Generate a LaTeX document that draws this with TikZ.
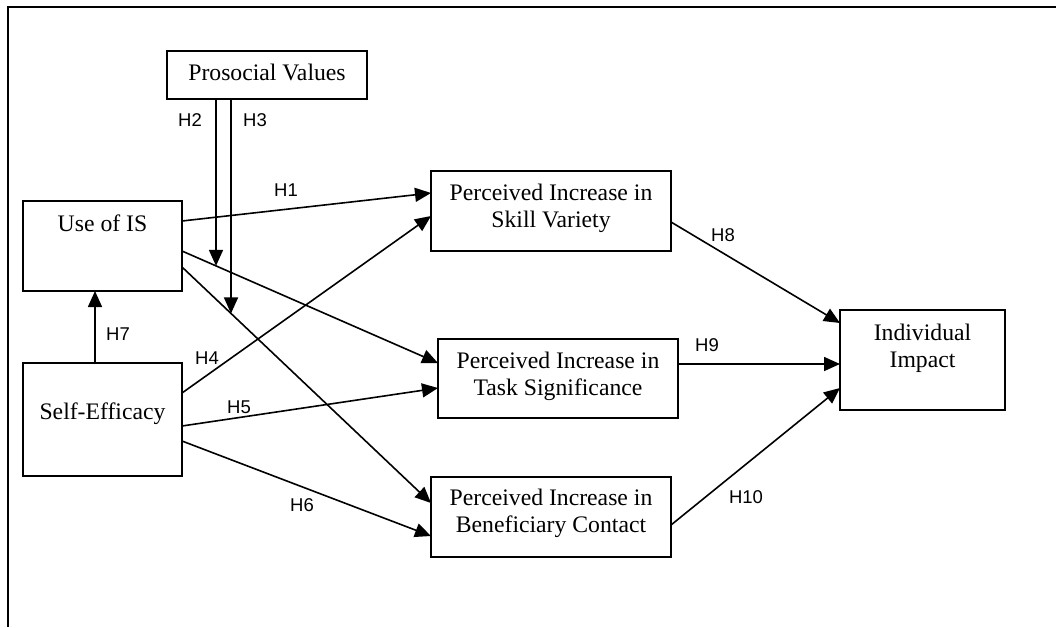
\documentclass[tikz,border=0pt]{standalone}
\usepackage{fontspec}
\setmainfont{Liberation Serif}
\newfontfamily\labfont{Liberation Sans}
\usetikzlibrary{arrows.meta,calc}
\begin{document}
\begin{tikzpicture}[x=1pt,y=-1pt,
  box/.style={draw, line width=1.8pt, inner sep=0pt, outer sep=0pt},
  boxtext/.style={font=\fontsize{23.7}{27}\selectfont, align=center, inner sep=0pt},
  hlab/.style={font=\labfont\fontsize{18.5}{20}\selectfont, inner sep=0pt},
  arr/.style={line width=1.6pt, -{Triangle[length=16pt,width=14pt]}},
]
\useasboundingbox (0,0) rectangle (1056,627);
\draw[line width=2.6pt] (1056,7) -- (8,7) -- (8,627);

% boxes
\node[box, minimum width=200pt, minimum height=48pt] (pro) at (267,75) {};
\node[box, minimum width=159pt, minimum height=90pt] (use) at (102.5,246) {};
\node[box, minimum width=159pt, minimum height=113pt] (self) at (102.5,419.5) {};
\node[box, minimum width=240pt, minimum height=80pt] (skill) at (551,211) {};
\node[box, minimum width=240pt, minimum height=79pt] (task) at (558,378.5) {};
\node[box, minimum width=240pt, minimum height=80pt] (ben) at (551,517) {};
\node[box, minimum width=165pt, minimum height=100pt] (imp) at (922.5,360) {};

% texts
\node[boxtext] (protxt) at (267,72) {Prosocial Values};
\node[boxtext] (usetxt) at (102.5,223) {Use of IS};
\node[boxtext] (selftxt) at (102.5,414) {Self-Efficacy};
\node[boxtext] (skilltxt) at (551,208) {Perceived Increase in\\Skill Variety};
\node[boxtext] (tasktxt) at (558,376) {Perceived Increase in\\Task Significance};
\node[boxtext] (bentxt) at (551,513) {Perceived Increase in\\Beneficiary Contact};
\node[boxtext] (imptxt) at (922.5,348) {Individual\\Impact};

% connector end points
\coordinate (h1s) at ($(use.north east)+(0,20)$);
\coordinate (h1e) at ($(skill.north west)+(0,22)$);
\coordinate (h4s) at ($(self.north east)+(0,30)$);
\coordinate (h4e) at ($(skill.north west)+(0,45)$);
\coordinate (uts) at ($(use.north east)+(0,50)$);
\coordinate (ute) at ($(task.north west)+(0,24)$);
\coordinate (ubs) at ($(use.north east)+(0,66)$);
\coordinate (ube) at ($(ben.north west)+(0,26)$);
\coordinate (h5s) at ($(self.north east)+(0,63)$);
\coordinate (h5e) at ($(task.north west)+(0,49)$);
\coordinate (h6s) at ($(self.north east)+(0,78)$);
\coordinate (h6e) at ($(ben.north west)+(0,59)$);
\coordinate (h8s) at ($(skill.north east)+(0,51)$);
\coordinate (h8e) at ($(imp.north west)+(0,13)$);
\coordinate (h9s) at ($(task.north east)+(0,25)$);
\coordinate (h9e) at (h9s -| imp.west);
\coordinate (h10s) at ($(ben.north east)+(0,48)$);
\coordinate (h10e) at ($(imp.north west)+(0,78)$);
\coordinate (h2s) at ($(pro.south west)+(49,0)$);
\coordinate (h2x) at ($(h2s)+(0,400)$);
\coordinate (h3s) at ($(pro.south west)+(64,0)$);
\coordinate (h3x) at ($(h3s)+(0,400)$);
\coordinate (h2e) at (intersection of h2s--h2x and uts--ute);
\coordinate (h3e) at (intersection of h3s--h3x and ubs--ube);
\coordinate (h7s) at ($(self.north west)+(72,0)$);
\coordinate (h7e) at (h7s |- use.south);

% connectors
\draw[arr] (h1s) -- (h1e);
\draw[arr] (h4s) -- (h4e);
\draw[arr] (uts) -- (ute);
\draw[arr] (ubs) -- (ube);
\draw[arr] (h5s) -- (h5e);
\draw[arr] (h6s) -- (h6e);
\draw[arr] (h8s) -- (h8e);
\draw[arr] (h9s) -- (h9e);
\draw[arr] (h10s) -- (h10e);
\draw[arr] (h2s) -- (h2e);
\draw[arr] (h3s) -- (h3e);
\draw[arr] (h7s) -- (h7e);

% labels
\node[hlab] (l1) at (286,190) {H1};
\node[hlab] (l2) at (190,120) {H2};
\node[hlab] (l3) at (255,120) {H3};
\node[hlab] (l4) at (207,358) {H4};
\node[hlab] (l5) at (239,407) {H5};
\node[hlab] (l6) at (302,505) {H6};
\node[hlab] (l7) at (118,334) {H7};
\node[hlab] (l8) at (723,235) {H8};
\node[hlab] (l9) at (707,345) {H9};
\node[hlab] (l10) at (746,497) {H10};
\end{tikzpicture}
\end{document}
